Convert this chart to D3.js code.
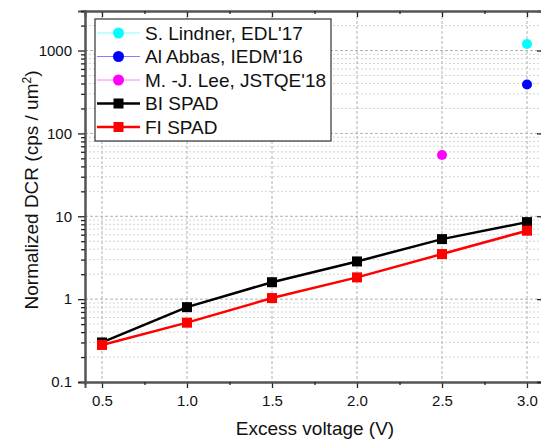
<!DOCTYPE html>
<html>
<head>
<meta charset="utf-8">
<script src="https://cdn.jsdelivr.net/npm/d3@7"></script>
<style>
  html, body { margin: 0; padding: 0; background: #fff; }
  svg { display: block; font-family: "Liberation Sans", Arial, sans-serif; }
</style>
</head>
<body>
<svg id="chart" width="541" height="442"></svg>
<script>
// Excess voltage (V) and normalized dark count rate (cps / um^2)
const voltages = [0.5, 1.0, 1.5, 2.0, 2.5, 3.0];
const biSpad = [0.30, 0.80, 1.60, 2.85, 5.3, 8.5];
const fiSpad = [0.28, 0.52, 1.03, 1.83, 3.5, 6.7];

// Literature reference points
const refNames = ["S. Lindner, EDL'17", "Al Abbas, IEDM'16", "M. -J. Lee, JSTQE'18"];
const refVoltages = [3.0, 3.0, 2.5];
const refValues = [1200, 390, 55];
const refColors = ["#00ffff", "#0000ff", "#ff00ff"];
const refLineColors = ["#80ffff", "#8080ff", "#ff80ff"];

const xTicks = [0.5, 1.0, 1.5, 2.0, 2.5, 3.0];
const xMinorTicks = [0.75, 1.25, 1.75, 2.25, 2.75];
const yTicks = [0.1, 1, 10, 100, 1000];

const svg = d3.select("#chart");
const plotL = 85, plotR = 544, plotT = 11, plotB = 382;

const x = d3.scaleLinear().domain([0.4, 3.1]).range([plotL, plotR]);
const y = d3.scaleLog().domain([0.1, 3000]).range([plotB, plotT]);

// Minor log positions (2..9 in each decade)
const yMinor = [];
[0.1, 1, 10, 100, 1000].forEach(d => {
  for (let k = 2; k <= 9; k++) {
    const v = d * k;
    if (v <= 3000) yMinor.push(v);
  }
});

const grid = svg.append("g");
grid.selectAll("line.ymin").data(yMinor).join("line")
  .attr("x1", plotL).attr("x2", plotR)
  .attr("y1", d => y(d)).attr("y2", d => y(d))
  .attr("stroke", "#d4d4d4").attr("stroke-width", 1).attr("stroke-dasharray", "2,2");
grid.selectAll("line.ymaj").data(yTicks.slice(1)).join("line")
  .attr("x1", plotL).attr("x2", plotR)
  .attr("y1", d => y(d)).attr("y2", d => y(d))
  .attr("stroke", "#b0b0b0").attr("stroke-width", 1).attr("stroke-dasharray", "3,2");
grid.selectAll("line.xmaj").data(xTicks).join("line")
  .attr("x1", d => x(d)).attr("x2", d => x(d))
  .attr("y1", plotT).attr("y2", plotB)
  .attr("stroke", "#b0b0b0").attr("stroke-width", 1).attr("stroke-dasharray", "3,2");

// Axes
const axisColor = "#555";
svg.append("g").attr("transform", `translate(0,${plotB})`)
  .call(d3.axisBottom(x).tickValues(xTicks).tickFormat(d3.format(".1f")).tickSize(6).tickPadding(7));
svg.append("g").attr("transform", `translate(0,${plotB})`)
  .call(d3.axisBottom(x).tickValues(xMinorTicks).tickFormat("").tickSize(3));
svg.append("g").attr("transform", `translate(${plotL},0)`)
  .call(d3.axisLeft(y).tickValues(yTicks).tickFormat(d => d3.format("~g")(d)).tickSize(7).tickPadding(6));
svg.append("g").attr("transform", `translate(${plotL},0)`)
  .call(d3.axisLeft(y).tickValues(yMinor).tickFormat("").tickSize(4));
// Mirror axes with inward ticks
svg.append("g").attr("transform", `translate(0,${plotT})`)
  .call(d3.axisBottom(x).tickValues(xTicks).tickFormat("").tickSize(6));
svg.append("g").attr("transform", `translate(0,${plotT})`)
  .call(d3.axisBottom(x).tickValues(xMinorTicks).tickFormat("").tickSize(3));
svg.append("g").attr("transform", `translate(${plotR},0)`)
  .call(d3.axisLeft(y).tickValues(yTicks).tickFormat("").tickSize(7));

svg.selectAll(".domain").attr("stroke", axisColor).attr("stroke-width", 2);
svg.selectAll(".tick line").attr("stroke", "#222").attr("stroke-width", 1.3);
svg.selectAll(".tick text").attr("font-size", 15).attr("fill", "#111")
  .attr("font-family", "'Liberation Sans', Arial, sans-serif");

// Axis titles
svg.append("text").attr("x", 315).attr("y", 435).attr("text-anchor", "middle")
  .attr("font-size", 19).attr("fill", "#111").text("Excess voltage (V)");
const yl = svg.append("text").attr("transform", `translate(38,190) rotate(-90)`)
  .attr("text-anchor", "middle").attr("font-size", 19).attr("fill", "#111");
yl.append("tspan").text("Normalized DCR (cps / um");
yl.append("tspan").attr("baseline-shift", "super").attr("font-size", 12).text("2");
yl.append("tspan").text(")");

// Data series
const line = d3.line().x(d => x(d[0])).y(d => y(d[1]));
const series = [
  { name: "BI SPAD", color: "#000000", values: biSpad },
  { name: "FI SPAD", color: "#ff0000", values: fiSpad }
];
series.forEach(s => {
  const pts = voltages.map((v, i) => [v, s.values[i]]);
  svg.append("path").datum(pts).attr("d", line)
    .attr("fill", "none").attr("stroke", s.color).attr("stroke-width", 2.5);
  svg.selectAll(null).data(pts).join("rect")
    .attr("x", d => x(d[0]) - 5).attr("y", d => y(d[1]) - 5)
    .attr("width", 10).attr("height", 10).attr("fill", s.color);
});

refNames.forEach((n, i) => {
  svg.append("circle").attr("cx", x(refVoltages[i])).attr("cy", y(refValues[i]))
    .attr("r", 5).attr("fill", refColors[i]);
});

// Legend
const lg = svg.append("g");
lg.append("rect").attr("x", 95).attr("y", 19).attr("width", 236).attr("height", 122)
  .attr("fill", "#fff").attr("stroke", "#333").attr("stroke-width", 1.2);
const entries = refNames.map((n, i) => ({ name: n, color: refColors[i], lc: refLineColors[i], lw: 1, shape: "circle" }))
  .concat(series.map(s => ({ name: s.name, color: s.color, lc: s.color, lw: 2.5, shape: "square" })));
const rowY = [33, 56.5, 80, 103.5, 127];
entries.forEach((e, i) => {
  const cy = rowY[i];
  lg.append("line").attr("x1", 97).attr("x2", 140).attr("y1", cy).attr("y2", cy)
    .attr("stroke", e.lc).attr("stroke-width", e.lw);
  if (e.shape === "circle") {
    lg.append("circle").attr("cx", 118.5).attr("cy", cy).attr("r", 5.5).attr("fill", e.color);
  } else {
    lg.append("rect").attr("x", 113.5).attr("y", cy - 5).attr("width", 10).attr("height", 10).attr("fill", e.color);
  }
  lg.append("text").attr("x", 145).attr("y", cy + 6.5).attr("font-size", 19).attr("fill", "#111").text(e.name);
});
</script>
</body>
</html>
